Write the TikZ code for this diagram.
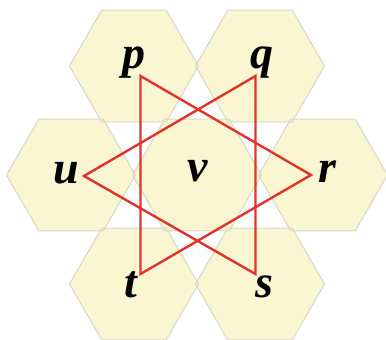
\documentclass[tikz,border=0pt]{standalone}
\usepackage{fontspec}
\setmainfont{Liberation Serif}
\usetikzlibrary{positioning}

\definecolor{hexfill}{RGB}{250,246,210}
\definecolor{hexline}{RGB}{216,214,198}
\definecolor{starred}{RGB}{224,52,42}

\begin{document}
\begin{tikzpicture}[
    x=0.5pt, y=-0.5pt,
    hexfill/.style={fill=hexfill},
    hexedge/.style={draw=hexline, line width=0.5pt},
    lbl/.style={anchor=base, inner sep=0pt, font=\fontsize{23}{27}\selectfont\bfseries\itshape},
    starline/.style={draw=starred, line width=1.2pt, line join=miter}
]
    \useasboundingbox (0,0) rectangle (386,339);

    % hexagon cells: fill first, then outlines
    \foreach \cx/\cy in {134/66, 260/66, 71/175, 197/175, 323/175, 134/284, 260/284}
        \fill[hexfill] (\cx,\cy) +(0:64.5) -- +(60:64.5) -- +(120:64.5) -- +(180:64.5) -- +(240:64.5) -- +(300:64.5) -- cycle;
    \foreach \cx/\cy in {134/66, 260/66, 71/175, 197/175, 323/175, 134/284, 260/284}
        \draw[hexedge] (\cx,\cy) +(0:64.5) -- +(60:64.5) -- +(120:64.5) -- +(180:64.5) -- +(240:64.5) -- +(300:64.5) -- cycle;

    % corners of the two triangles
    \coordinate (cp) at (140.5,76);
    \coordinate (cq) at (255.5,76);
    \coordinate (cr) at (311,175);
    \coordinate (cs) at (255.5,274);
    \coordinate (ct) at (140.5,274);
    \coordinate (cu) at (84,176);

    \node[lbl] (p) at (134,68) {p};
    \node[lbl] (q) at (262,68) {q};
    \node[lbl] (u) at (66,183) {u};
    \node[lbl] (v) at (198,181) {v};
    \node[lbl] (r) at (327,182) {r};
    \node[lbl] (t) at (131,297) {t};
    \node[lbl] (s) at (264,297) {s};

    \draw[starline] (cp) -- (ct) -- (cr) -- cycle;
    \draw[starline] (cq) -- (cs) -- (cu) -- cycle;
\end{tikzpicture}
\end{document}
